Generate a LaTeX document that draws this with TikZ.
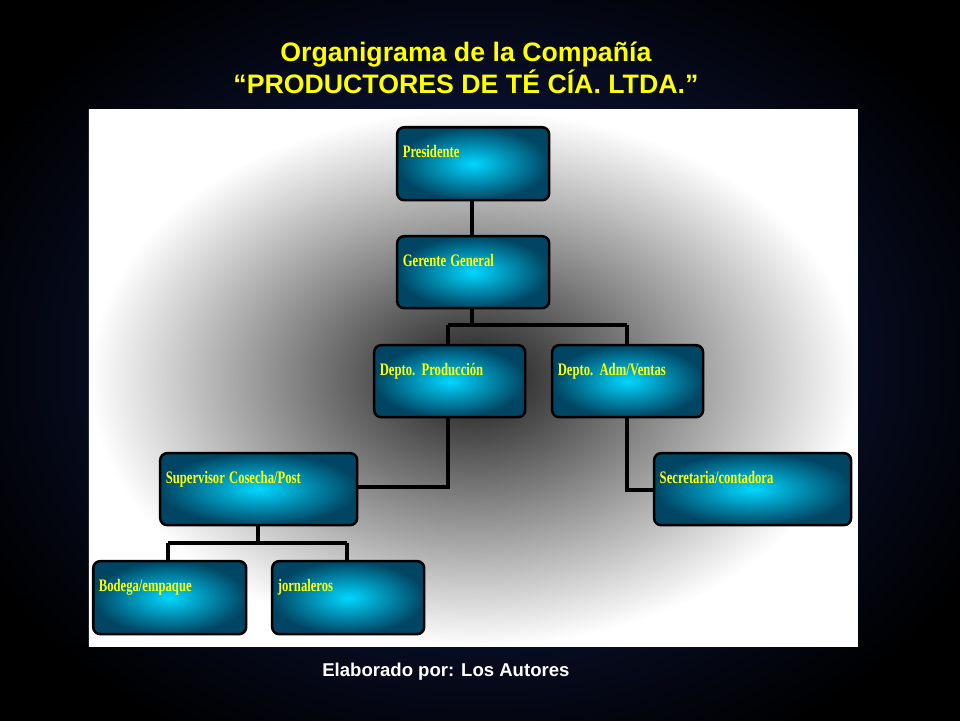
\documentclass[tikz,border=0pt]{standalone}
\usepackage{fontspec}
\setmainfont{Liberation Serif}
\newfontfamily\titlefont{Liberation Sans}
\usetikzlibrary{positioning}
\definecolor{boxin}{RGB}{0,215,255}
\definecolor{boxout}{RGB}{0,70,100}
\definecolor{titleyel}{RGB}{255,255,0}
\definecolor{bgin}{RGB}{20,35,95}
\tikzset{>=latex}
\tikzset{
    orgbox/.style={draw=black, line width=1.8pt, rounded corners=5pt,
        inner color=boxin, outer color=boxout, align=left,
        text=titleyel, font=\bfseries\fontsize{12.5}{14}\selectfont,
        inner sep=3pt},
    link/.style={line width=2.4pt, black}
}
\newcommand{\pbox}[6]{% name, left, top, right, bottom, text
    \node[orgbox, anchor=north west, minimum width={(#4-#2)*0.025cm},
          minimum height={(#5-#3)*0.025cm}, text width={(#4-#2)*0.025cm-8pt},
          text height=17pt, text depth={(#5-#3)*0.025cm-26pt}]
        (#1) at ({#2*0.025},{-#3*0.025}) {\scalebox{0.72}[1]{#6}};}
\begin{document}
\begin{tikzpicture}
    \useasboundingbox (0,0) rectangle (24,-18);
    % slide background
    \fill[black] (0,0) rectangle (24,-18);
    \shade[inner color=bgin, outer color=black] (-2,2) rectangle (26,-20);
    % picture panel
    \shade[inner color=black!90, outer color=white]
        (89*0.025,-110*0.025) rectangle (858*0.025,-647*0.025);
    \node[font=\titlefont\bfseries\fontsize{19}{23}\selectfont, text=titleyel, align=center]
        (title) at (466*0.025,-68*0.025)
        {Organigrama de la Compañía\\“PRODUCTORES DE TÉ CÍA. LTDA.”};
    \node[font=\titlefont\bfseries\fontsize{13.2}{15}\selectfont, text=white]
        (autores) at (446*0.025,-672*0.025) {Elaborado por: Los Autores};
    % connectors
    \coordinate (busA) at (472*0.025,-325*0.025);
    \coordinate (busL) at (448*0.025,-325*0.025);
    \coordinate (busR) at (627*0.025,-325*0.025);
    \coordinate (prodturn) at (448*0.025,-487*0.025);
    \coordinate (admturn) at (627*0.025,-490*0.025);
    \coordinate (supbus) at (258*0.025,-543*0.025);
    \coordinate (busBL) at (168*0.025,-543*0.025);
    \coordinate (busBR) at (347*0.025,-543*0.025);
    \draw[link] (472*0.025,-199*0.025) -- (472*0.025,-235*0.025);
    \draw[link] (472*0.025,-307*0.025) -- (busA);
    \draw[link] (busL) -- (busR);
    \draw[link] (busL) -- (448*0.025,-344*0.025);
    \draw[link] (busR) -- (627*0.025,-344*0.025);
    \draw[link] (448*0.025,-416*0.025) -- (prodturn) -- (356*0.025,-487*0.025);
    \draw[link] (627*0.025,-416*0.025) -- (admturn) -- (653*0.025,-490*0.025);
    \draw[link] (258*0.025,-524*0.025) -- (supbus);
    \draw[link] (busBL) -- (busBR);
    \draw[link] (busBL) -- (168*0.025,-560*0.025);
    \draw[link] (busBR) -- (347*0.025,-560*0.025);
    % boxes
    \pbox{presidente}{396}{126}{548}{199}{Presidente}
    \pbox{gerente}{396}{235}{548}{307}{Gerente General}
    \pbox{produccion}{373}{344}{524}{416}{Depto. Producción}
    \pbox{ventas}{551}{344}{702}{416}{Depto. Adm/Ventas}
    \pbox{supervisor}{159}{452}{356}{524}{Supervisor Cosecha/Post}
    \pbox{secretaria}{653}{452}{850}{524}{Secretaria/contadora}
    \pbox{bodega}{92}{560}{245}{633}{Bodega/empaque}
    \pbox{jornaleros}{271}{560}{423}{633}{jornaleros}
\end{tikzpicture}
\end{document}
